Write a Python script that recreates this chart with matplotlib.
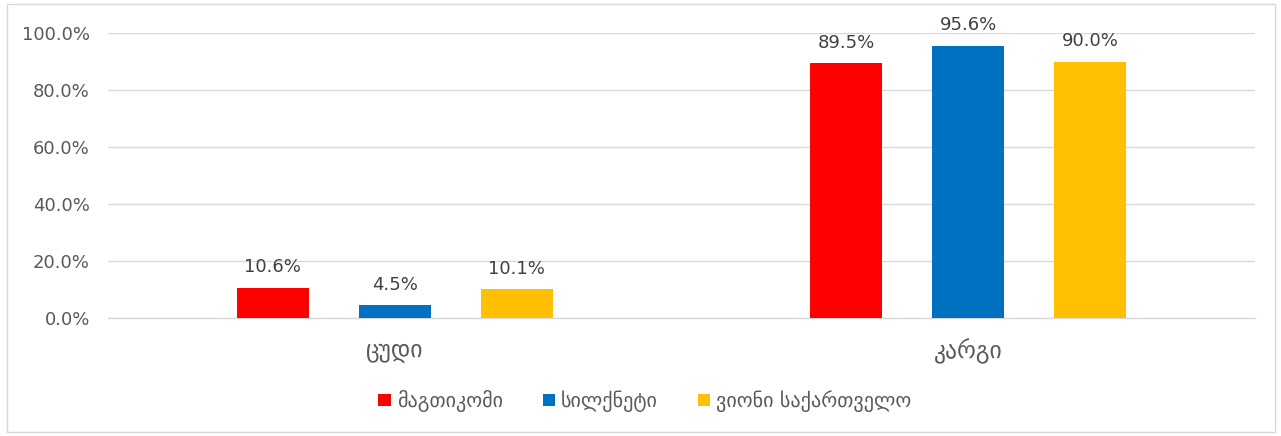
import numpy as np
import matplotlib
matplotlib.use("Agg")
import matplotlib.pyplot as plt
from matplotlib.patches import Rectangle

# data
categories = ["ცუდი", "კარგი"]
series_names = ["მაგთიკომი", "სილქნეტი", "ვიონი საქართველო"]
magticom = [10.6, 89.5]
silknet = [4.5, 95.6]
veon = [10.1, 90.0]
yticks = [0, 20, 40, 60, 80, 100]

colors = ["#FF0000", "#0070C0", "#FFC000"]
text_color = "#595959"

plt.rcParams["font.family"] = ["DejaVu Sans"]

fig = plt.figure(figsize=(12.81, 4.36), dpi=100)
ax = fig.add_axes([108 / 1281, 1 - 318 / 436, (1255 - 108) / 1281, (318 - 33) / 436])

x = np.arange(len(categories))
width = 0.1255
offset = 0.213
all_series = [magticom, silknet, veon]

for i, (vals, name) in enumerate(zip(all_series, series_names)):
    pos = x + (i - 1) * offset
    bars = ax.bar(pos, vals, width, color=colors[i], label=name, zorder=3)
    for b, v in zip(bars, vals):
        ax.text(b.get_x() + b.get_width() / 2, v + 4, f"{v:.1f}%",
                ha="center", va="bottom", fontsize=13, color="#404040")

ax.set_xlim(-0.5, 1.5)
ax.set_ylim(0, 100)
ax.set_yticks(yticks)
ax.set_yticklabels([f"{t:.1f}%" for t in yticks], fontsize=13, color=text_color)
ax.set_xticks(x)
ax.set_xticklabels(categories, fontsize=17, color=text_color)
ax.tick_params(axis="x", length=0, pad=15)
ax.tick_params(axis="y", length=0, pad=13)

ax.grid(axis="y", color="#D9D9D9", linewidth=1, zorder=0)
for s in ["top", "right", "left"]:
    ax.spines[s].set_visible(False)
ax.spines["bottom"].set_color("#D9D9D9")
ax.spines["bottom"].set_linewidth(1)

leg = fig.legend(loc="center", bbox_to_anchor=(645 / 1281, 1 - 401 / 436), ncol=3,
                 frameon=False, fontsize=14.5, handlelength=0.6, handleheight=0.6,
                 handletextpad=0.3, columnspacing=2.0)
for t in leg.get_texts():
    t.set_color(text_color)

# outer chart border
fig.patches.append(Rectangle((7 / 1281, 4 / 436), 1268 / 1281, 428 / 436,
                             transform=fig.transFigure, fill=False,
                             edgecolor="#D9D9D9", linewidth=1))

fig.savefig("out.png", dpi=100)
